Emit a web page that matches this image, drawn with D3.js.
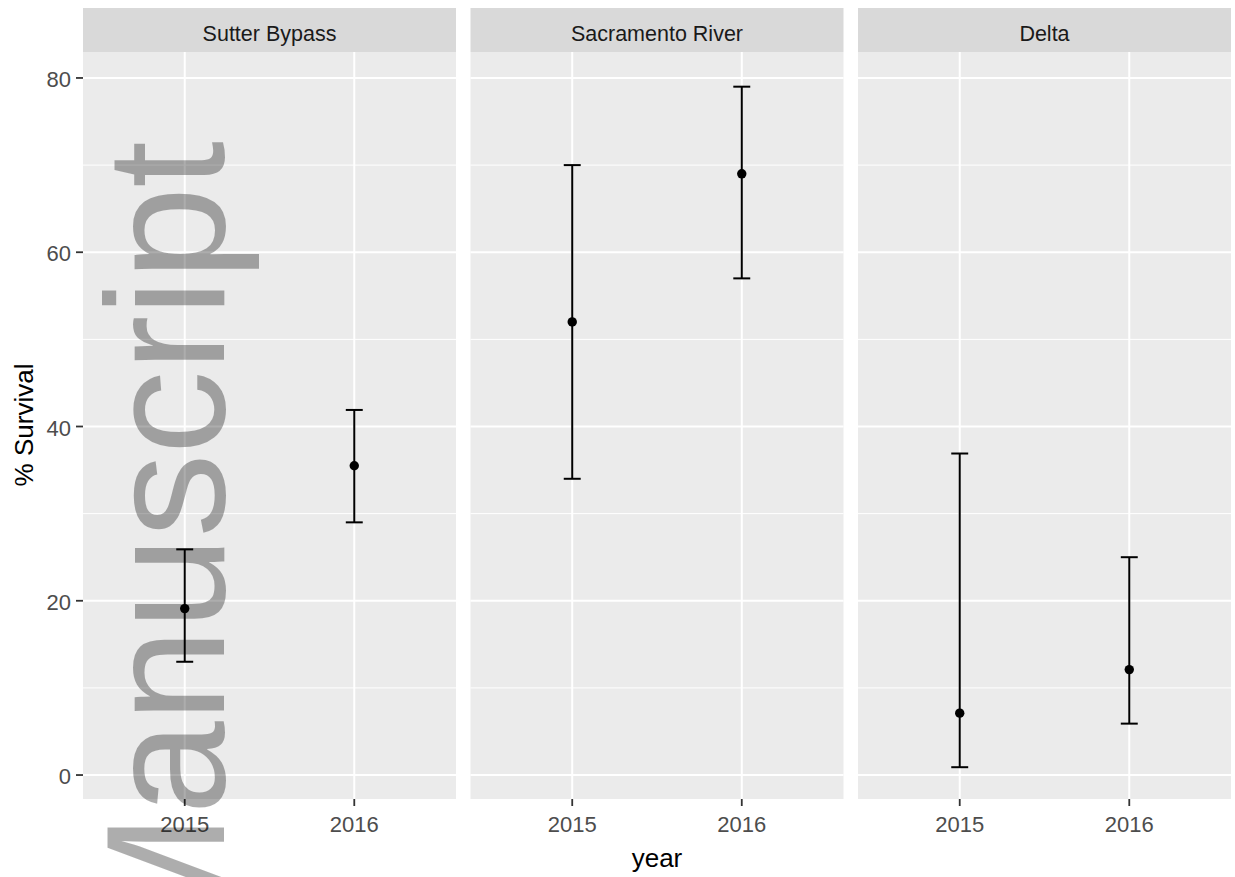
<!DOCTYPE html>
<html>

<head>
    <script src="https://d3js.org/d3.v7.min.js" charset="utf-8"></script>
    <style>
        body {
            margin: 0;
            background: #fff;
        }

        svg {
            font-family: "Liberation Sans", Arial, sans-serif;
        }
    </style>
</head>

<body>
    <script>
        // facet panels and their data
        var regions = ["Sutter Bypass", "Sacramento River", "Delta"];
        var years = ["2015", "2016"];
        var region = ["Sutter Bypass", "Sutter Bypass", "Sacramento River", "Sacramento River", "Delta", "Delta"];
        var year = ["2015", "2016", "2015", "2016", "2015", "2016"];
        var survival = [19.1, 35.5, 52, 69, 7.1, 12.1];
        var lower = [13, 29, 34, 57, 0.9, 5.9];
        var upper = [25.9, 41.9, 70, 79, 36.9, 25];
        var yTicks = [0, 20, 40, 60, 80];
        var yMinor = [10, 30, 50, 70];

        var data = survival.map(function (d, i) {
            return { region: region[i], year: year[i], value: d, lo: lower[i], hi: upper[i] };
        });

        var width = 1235,
            height = 877,
            panelLeft = 83,
            panelW = 373,
            gap = 14.5,
            stripTop = 8,
            stripH = 44,
            panelTop = stripTop + stripH,
            panelBottom = 799;

        var svg = d3.select("body")
            .append("svg")
            .attr("width", width)
            .attr("height", height);

        var y = d3.scaleLinear()
            .domain([-2.75, 82.98])
            .range([panelBottom, panelTop]);

        // discrete x with ggplot style 0.6 expansion
        var x = d3.scaleLinear()
            .domain([0.4, years.length + 0.6])
            .range([0, panelW]);

        regions.forEach(function (r, pi) {
            var g = svg.append("g")
                .attr("transform", "translate(" + (panelLeft + pi * (panelW + gap)) + ",0)");

            // strip
            g.append("rect")
                .attr("x", 0).attr("y", stripTop)
                .attr("width", panelW).attr("height", stripH)
                .attr("fill", "#d9d9d9");
            g.append("text")
                .attr("x", panelW / 2)
                .attr("y", 41)
                .attr("text-anchor", "middle")
                .attr("font-size", 21.5)
                .attr("fill", "#1a1a1a")
                .text(r);

            // panel background
            g.append("rect")
                .attr("x", 0).attr("y", panelTop)
                .attr("width", panelW).attr("height", panelBottom - panelTop)
                .attr("fill", "#ebebeb");

            g.selectAll(".minor")
                .data(yMinor)
                .enter().append("line")
                .attr("x1", 0).attr("x2", panelW)
                .attr("y1", function (d) { return y(d); })
                .attr("y2", function (d) { return y(d); })
                .attr("stroke", "#fff").attr("stroke-width", 1);

            g.selectAll(".major")
                .data(yTicks)
                .enter().append("line")
                .attr("x1", 0).attr("x2", panelW)
                .attr("y1", function (d) { return y(d); })
                .attr("y2", function (d) { return y(d); })
                .attr("stroke", "#fff").attr("stroke-width", 2);

            g.selectAll(".vgrid")
                .data(years)
                .enter().append("line")
                .attr("x1", function (d, i) { return x(i + 1); })
                .attr("x2", function (d, i) { return x(i + 1); })
                .attr("y1", panelTop).attr("y2", panelBottom)
                .attr("stroke", "#fff").attr("stroke-width", 2);

            // x axis
            var xa = g.append("g");
            years.forEach(function (yr, i) {
                xa.append("line")
                    .attr("x1", x(i + 1)).attr("x2", x(i + 1))
                    .attr("y1", panelBottom).attr("y2", panelBottom + 7)
                    .attr("stroke", "#333").attr("stroke-width", 1.8);
                xa.append("text")
                    .attr("x", x(i + 1))
                    .attr("y", panelBottom + 33)
                    .attr("text-anchor", "middle")
                    .attr("font-size", 22)
                    .attr("fill", "#4d4d4d")
                    .text(yr);
            });

            // error bars and points
            var rows = data.filter(function (d) { return d.region === r; });
            var cap = (x(1.05) - x(0.95)) / 2;
            var eb = g.selectAll(".eb")
                .data(rows)
                .enter().append("g");
            eb.append("line")
                .attr("x1", function (d) { return x(years.indexOf(d.year) + 1); })
                .attr("x2", function (d) { return x(years.indexOf(d.year) + 1); })
                .attr("y1", function (d) { return y(d.lo); })
                .attr("y2", function (d) { return y(d.hi); })
                .attr("stroke", "#000").attr("stroke-width", 2);
            ["lo", "hi"].forEach(function (k) {
                eb.append("line")
                    .attr("x1", function (d) { return x(years.indexOf(d.year) + 1) - cap; })
                    .attr("x2", function (d) { return x(years.indexOf(d.year) + 1) + cap; })
                    .attr("y1", function (d) { return y(d[k]); })
                    .attr("y2", function (d) { return y(d[k]); })
                    .attr("stroke", "#000").attr("stroke-width", 2);
            });
            eb.append("circle")
                .attr("cx", function (d) { return x(years.indexOf(d.year) + 1); })
                .attr("cy", function (d) { return y(d.value); })
                .attr("r", 4.7)
                .attr("fill", "#000");
        });

        // y axis on first panel
        var ya = svg.append("g");
        yTicks.forEach(function (t) {
            ya.append("line")
                .attr("x1", panelLeft - 7).attr("x2", panelLeft)
                .attr("y1", y(t)).attr("y2", y(t))
                .attr("stroke", "#333").attr("stroke-width", 1.8);
            ya.append("text")
                .attr("x", panelLeft - 12)
                .attr("y", y(t) + 9)
                .attr("text-anchor", "end")
                .attr("font-size", 22)
                .attr("fill", "#4d4d4d")
                .text(t);
        });

        // axis titles
        svg.append("text")
            .attr("transform", "translate(33,425) rotate(-90)")
            .attr("text-anchor", "middle")
            .attr("font-size", 26)
            .attr("fill", "#000")
            .text("% Survival");

        svg.append("text")
            .attr("x", panelLeft + (3 * panelW + 2 * gap) / 2)
            .attr("y", 867)
            .attr("text-anchor", "middle")
            .attr("font-size", 26)
            .attr("fill", "#000")
            .text("year");

        // watermark
        svg.append("text")
            .attr("transform", "translate(224,142) rotate(-90)")
            .attr("text-anchor", "end")
            .attr("font-size", 168)
            .attr("letter-spacing", -1)
            .attr("fill", "#000")
            .attr("fill-opacity", 0.32)
            .text("Manuscript");
    </script>
</body>

</html>
